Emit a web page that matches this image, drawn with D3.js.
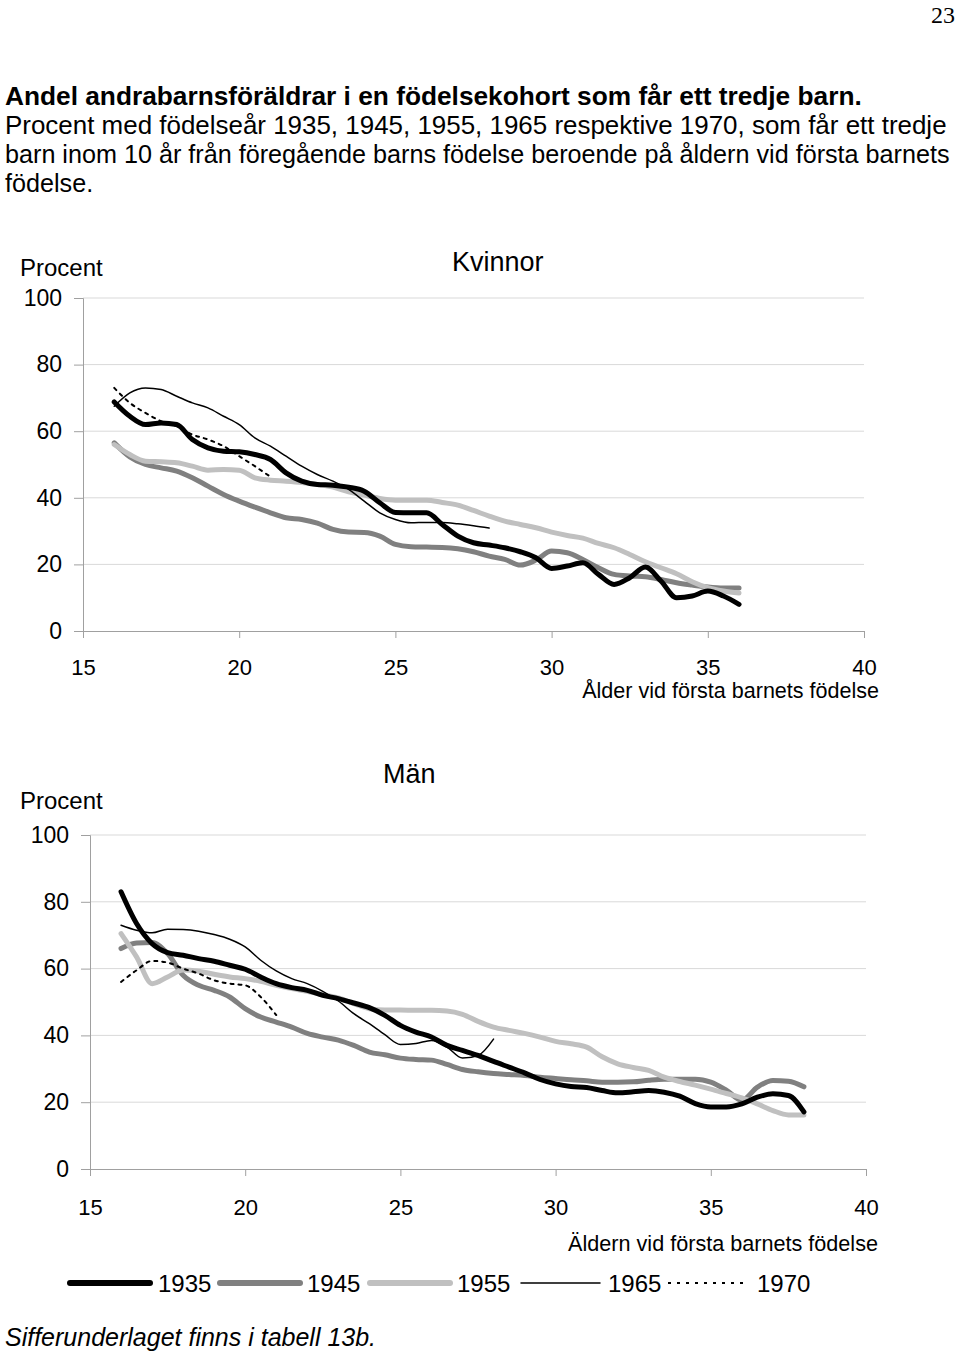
<!DOCTYPE html>
<html><head><meta charset="utf-8">
<script src="https://cdn.jsdelivr.net/npm/d3@7"></script>
<style>
body{margin:0;background:#fff;}
svg{display:block;font-family:"Liberation Sans",Arial,Helvetica,sans-serif;}
</style></head>
<body>
<svg id="c" width="960" height="1354"></svg>
<script>
// ---------- DATA ----------
const ages = d3.range(16, 38.01, 0.5);
const xTicks = [15, 20, 25, 30, 35, 40];
const yTicks = [0, 20, 40, 60, 80, 100];
const cohorts = ["1935", "1945", "1955", "1965", "1970"];

// Kvinnor (women), ages 16..36 step 0.5
const k1935 = [68.8,64.5,62,62.5,62,57.5,55,54,53.8,53,51.5,47.5,45,44,43.8,43.2,42,38.5,35.6,35.5,35.5,32,28.5,26.5,25.8,25,23.8,22,18.8,19.5,20.5,17,14,16,19.2,15,10,10.5,12,10.5,8];
const k1945 = [56.5,52.3,50,49,48,46,43.5,41,39,37.2,35.5,34,33.5,32.4,30.5,29.7,29.6,28.5,26,25.3,25.2,25.1,24.7,23.8,22.5,21.5,19.8,21.3,24,23.5,21.5,19,17,16.5,16.3,15.5,14.5,13.8,13.2,12.9,12.9];
const k1955 = [56,53,51,50.8,50.5,49.5,48.3,48.5,48.3,46,45.3,45,44.6,44,43.2,41.8,40.8,39.8,39.3,39.3,39.3,38.6,37.8,36.2,34.5,33,32,31,29.7,28.7,27.9,26.3,25,23,20.8,19,17.2,14.8,13,12,11.4];
const k1965 = [67.5,71.5,73,72.5,70.5,68.5,67,64.5,62,58,55.5,52.5,49.5,47,45,42.5,39,35.5,33.5,32.5,32.6,32.6,32.2,31.6,30.9];
const k1970 = [73,68.5,65.5,63,61.5,59,57.5,55.5,52.5,49.5,46.3];

// Män (men), ages 16..38 step 0.5
const m1935 = [83,73.5,67.5,64.8,64,63,62.2,61,59.8,57.5,55.5,54.3,53.5,52,51,49.7,48.3,46,43,41,39.5,37,35.5,34,32.2,30.5,28.8,26.8,25.5,24.7,24.4,23.5,22.8,23.1,23.5,23,21.8,19.6,18.6,18.6,19.5,21.5,22.5,22,17.1];
const m1945 = [66,67.7,67.8,64.5,58,55,53.5,51.5,48,45.5,44,42.5,40.6,39.5,38.6,37,35,34.2,33.2,32.8,32.6,31.3,29.8,29.1,28.6,28.3,28,27.5,27.1,26.7,26.4,26,26,26.1,26.6,26.9,26.9,26.9,26,23.6,20.6,24.5,26.5,26.3,24.6];
const m1955 = [70.5,63.5,55.5,57.5,59.6,59.2,58.3,57.5,57,56.2,55,54,53.2,52.2,51.2,49.5,48,47.6,47.6,47.5,47.5,47.3,46.3,44.2,42.5,41.5,40.6,39.5,38.2,37.5,36.5,33.6,31.5,30.4,29.5,27.5,26.2,25.1,23.9,22.6,21.3,19.5,17.5,16.2,16.2];
const m1965 = [73,71.5,70.7,71.8,71.7,71.2,70.2,68.8,66.5,62.5,59.3,57,55.5,53.2,50.3,46.5,43.5,40.2,37.3,37.6,38.5,36.5,33.2,34,38.9];
const m1970 = [56,59.5,62.3,61.8,60,58.5,56.5,55.5,55,51.5,46.1];

const titleText = "Andel andrabarnsföräldrar i en födelsekohort som får ett tredje barn.";
const subLines = [
  "Procent med födelseår 1935, 1945, 1955, 1965 respektive 1970, som får ett tredje",
  "barn inom 10 år från föregående barns födelse beroende på åldern vid första barnets",
  "födelse."
];

// ---------- STYLES ----------
const styles = {
  "1935": {stroke:"#000", width:5, dash:null},
  "1945": {stroke:"#808080", width:5, dash:null},
  "1955": {stroke:"#c0c0c0", width:5, dash:null},
  "1965": {stroke:"#000", width:1.5, dash:null},
  "1970": {stroke:"#000", width:2, dash:"3,5"}
};

const svg = d3.select("#c");
svg.append("rect").attr("width",960).attr("height",1354).attr("fill","#fff");

// page number
svg.append("text").attr("x",955).attr("y",23).attr("text-anchor","end")
  .attr("font-family","'Liberation Serif','Times New Roman',serif").attr("font-size",24).text("23");

function fitText(sel, target){
  const w = sel.node().getComputedTextLength();
  const fs = parseFloat(sel.attr("font-size"));
  sel.attr("font-size", fs*target/w);
  return fs*target/w;
}

const t = svg.append("text").attr("x",5).attr("y",105).attr("font-weight","bold").attr("font-size",23).text(titleText);
fitText(t, 857);
let subFs = 22;
const sw = [942, 945];
subLines.forEach((s,i)=>{
  const tt = svg.append("text").attr("x",5).attr("y",134+i*29).attr("font-size",22).text(s);
  if (i < 2) subFs = fitText(tt, sw[i]); else tt.attr("font-size", subFs);
});

function chart(cfg){
  const x = d3.scaleLinear().domain([15,40]).range([cfg.x0, cfg.x1]);
  const y = d3.scaleLinear().domain([0,100]).range([cfg.y0, cfg.y1]);
  const g = svg.append("g");
  g.append("g").selectAll("line").data(yTicks.filter(d=>d>0)).join("line")
    .attr("x1", cfg.x0).attr("x2", cfg.x1).attr("y1", d=>y(d)).attr("y2", d=>y(d))
    .attr("stroke","#d9d9d9").attr("stroke-width",1);
  const ya = g.append("g").attr("transform",`translate(${cfg.x0},0)`)
    .call(d3.axisLeft(y).tickValues(yTicks).tickSize(9).tickPadding(cfg.yPad));
  ya.select(".domain").attr("stroke","#a0a0a0");
  ya.selectAll(".tick line").attr("stroke","#a0a0a0");
  ya.selectAll("text").attr("font-size",23).attr("fill","#000").attr("font-family","'Liberation Sans',Arial,sans-serif");
  const xa = g.append("g").attr("transform",`translate(0,${cfg.y0})`)
    .call(d3.axisBottom(x).tickValues(xTicks).tickSize(7));
  xa.select(".domain").attr("stroke","#a0a0a0");
  xa.selectAll(".tick line").attr("stroke","#a0a0a0");
  xa.selectAll("text").attr("font-size",22).attr("fill","#000").attr("font-family","'Liberation Sans',Arial,sans-serif")
    .attr("y", cfg.xLabOff).attr("dy","0");
  g.append("text").attr("x",20).attr("y",cfg.procentY).attr("font-size",24).text("Procent");
  g.append("text").attr("x",cfg.titleX).attr("y",cfg.titleY).attr("font-size",27).text(cfg.title);
  const xl = g.append("text").attr("x",cfg.xlabX).attr("y",cfg.xlabY).attr("text-anchor","end").attr("font-size",19).text(cfg.xlab);
  fitText(xl, cfg.xlabW);
  const line = d3.line().x(d=>x(d[0])).y(d=>y(d[1])).curve(d3.curveMonotoneX);
  cfg.series.forEach(s=>{
    const st = styles[s.name];
    const pts = s.values.map((v,i)=>[ages[i], v]);
    g.append("path").datum(pts).attr("d", line).attr("fill","none")
      .attr("stroke", st.stroke).attr("stroke-width", st.width)
      .attr("stroke-dasharray", st.dash).attr("stroke-linejoin","round").attr("stroke-linecap","round");
  });
}

chart({x0:83, x1:864, y0:631, y1:298, yPad:12, xLabOff:44, procentY:276, title:"Kvinnor", titleX:452, titleY:271,
  xlab:"Ålder vid första barnets födelse", xlabX:879, xlabY:698, xlabW:297,
  series:[{name:"1945",values:k1945},{name:"1955",values:k1955},{name:"1935",values:k1935},{name:"1965",values:k1965},{name:"1970",values:k1970}]});

chart({x0:90, x1:866, y0:1169, y1:835, yPad:12, xLabOff:46, procentY:809, title:"Män", titleX:383, titleY:783,
  xlab:"Äldern vid första barnets födelse", xlabX:878, xlabY:1251, xlabW:310,
  series:[{name:"1945",values:m1945},{name:"1955",values:m1955},{name:"1935",values:m1935},{name:"1965",values:m1965},{name:"1970",values:m1970}]});

// legend
const legendPos = [{x1:70,x2:150,tx:158},{x1:220,x2:300,tx:307},{x1:370,x2:450,tx:457},{x1:521,x2:600,tx:608},{x1:668,x2:748,tx:757}];
const lg = svg.append("g");
cohorts.forEach((c,i)=>{
  const st = styles[c], p = legendPos[i];
  lg.append("line").attr("x1",p.x1).attr("x2",p.x2).attr("y1",1283).attr("y2",1283)
    .attr("stroke",st.stroke).attr("stroke-width",c==="1965"?1.5:(c==="1970"?2:6)).attr("stroke-dasharray", c==="1970"?"3,6":st.dash)
    .attr("stroke-linecap", c==="1970"?"butt":"round");
  lg.append("text").attr("x",p.tx).attr("y",1292).attr("font-size",24).text(c);
});

svg.append("text").attr("x",5).attr("y",1346).attr("font-size",25).attr("font-style","italic")
  .text("Sifferunderlaget finns i tabell 13b.");
</script>
</body></html>
